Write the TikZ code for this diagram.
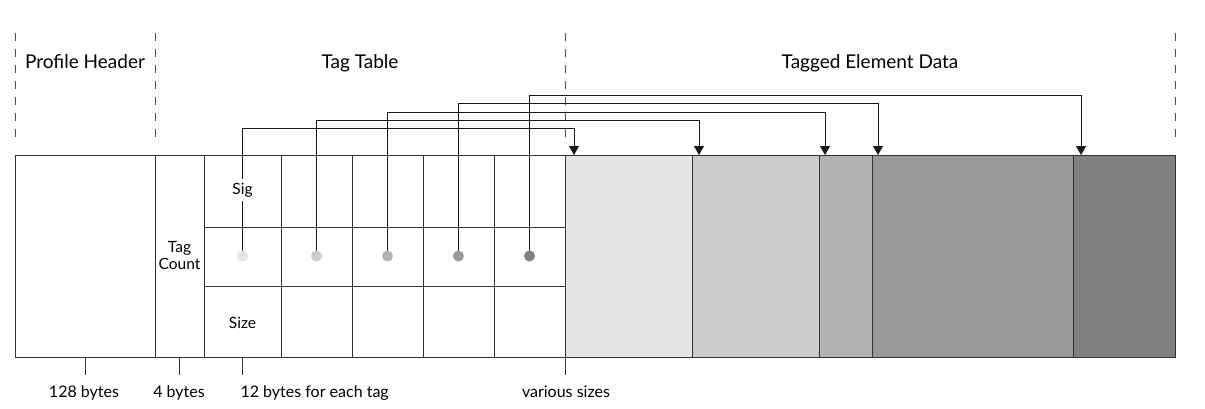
\documentclass[tikz,border=0pt]{standalone}
\usepackage{fontspec}
\setmainfont{Lato}
\usetikzlibrary{arrows.meta}
\begin{document}
\begin{tikzpicture}[x=1pt,y=-1pt]
	\useasboundingbox (0,0) rectangle (1205,408);
	\tikzstyle{part}=[draw=black!80,line width=1pt,anchor=north west,inner sep=0pt,outer sep=0pt,minimum height=202pt]
	\tikzstyle{sep}=[draw=black!70,line width=1pt,dash pattern=on 8pt off 8pt]
	\tikzstyle{grid}=[draw=black!80,line width=1pt]
	\tikzstyle{dot}=[circle,inner sep=0pt,minimum size=11pt]
	\tikzstyle{point}=[draw=black!90,line width=1pt,-{Triangle[width=10pt,length=9pt]}]
	\tikzstyle{small}=[font=\fontsize{15.5}{17}\selectfont]
	\tikzstyle{big}=[font=\fontsize{19}{22}\selectfont]
	\tikzstyle{mid}=[font=\fontsize{16}{19}\selectfont]

	% section titles and dividers
	\node[big,anchor=base] (PH) at (85,68) {Profile Header};
	\node[big,anchor=base] (TT) at (360,68) {Tag Table};
	\node[big,anchor=base] (ED) at (870,68) {Tagged Element Data};
	\draw[sep] (15,33) -- (15,145);
	\draw[sep] (155,33) -- (155,145);
	\draw[sep] (565,33) -- (565,145);
	\draw[sep] (1175,33) -- (1175,145);

	% the file
	\node[part,minimum width=140pt] (HD) at (15,155) {};
	\node[part,minimum width=49pt,small,align=center] (TC) at (155,155) {Tag\\Count};
	\node[part,minimum width=77pt] (T1) at (204,155) {};
	\node[part,minimum width=71pt] (T2) at (281,155) {};
	\node[part,minimum width=71pt] (T3) at (352,155) {};
	\node[part,minimum width=71pt] (T4) at (423,155) {};
	\node[part,minimum width=71pt] (T5) at (494,155) {};
	\draw[grid] (T1.west |- 0,227) -- (T5.east |- 0,227);
	\draw[grid] (T1.west |- 0,286) -- (T5.east |- 0,286);
	\node[part,minimum width=127pt,fill=black!10] (D1) at (565,155) {};
	\node[part,minimum width=127pt,fill=black!20] (D2) at (692,155) {};
	\node[part,minimum width=53pt,fill=black!30] (D3) at (819,155) {};
	\node[part,minimum width=201pt,fill=black!40] (D4) at (872,155) {};
	\node[part,minimum width=102pt,fill=black!50] (D5) at (1073,155) {};

	% offsets
	\coordinate (S1) at (T1.center);
	\coordinate (S2) at (T2.center);
	\coordinate (S3) at (T3.center);
	\coordinate (S4) at (T4.center);
	\coordinate (S5) at (T5.center);
	\draw[point] (S1) -- (S1 |- 0,128) -| ([xshift=9pt]D1.north west);
	\draw[point] (S2) -- (S2 |- 0,120) -| ([xshift=7pt]D2.north west);
	\draw[point] (S3) -- (S3 |- 0,112) -| ([xshift=6pt]D3.north west);
	\draw[point] (S4) -- (S4 |- 0,103) -| ([xshift=6pt]D4.north west);
	\draw[point] (S5) -- (S5 |- 0,95) -| ([xshift=8pt]D5.north west);
	\node[dot,fill=black!10] (P1) at (S1) {};
	\node[dot,fill=black!20] (P2) at (S2) {};
	\node[dot,fill=black!30] (P3) at (S3) {};
	\node[dot,fill=black!40] (P4) at (S4) {};
	\node[dot,fill=black!50] (P5) at (S5) {};
	\node[small,fill=white,inner sep=4pt] (SG) at (242.5,190) {Sig};
	\node[small] (SZ) at (242.5,323) {Size};

	% sizes
	\draw[grid] (HD.south) -- ++(0,18);
	\draw[grid] (TC.south) -- ++(0,18);
	\draw[grid] (T1.south) -- ++(0,18);
	\draw[grid] (D1.south west) -- ++(0,18);
	\node[mid,anchor=base] (B1) at (84,397) {128 bytes};
	\node[mid,anchor=base] (B2) at (179,397) {4 bytes};
	\node[mid,anchor=base west] (B3) at (237,397) {12 bytes for each tag};
	\node[mid,anchor=base] (B4) at (566,397) {various sizes};
\end{tikzpicture}
\end{document}
